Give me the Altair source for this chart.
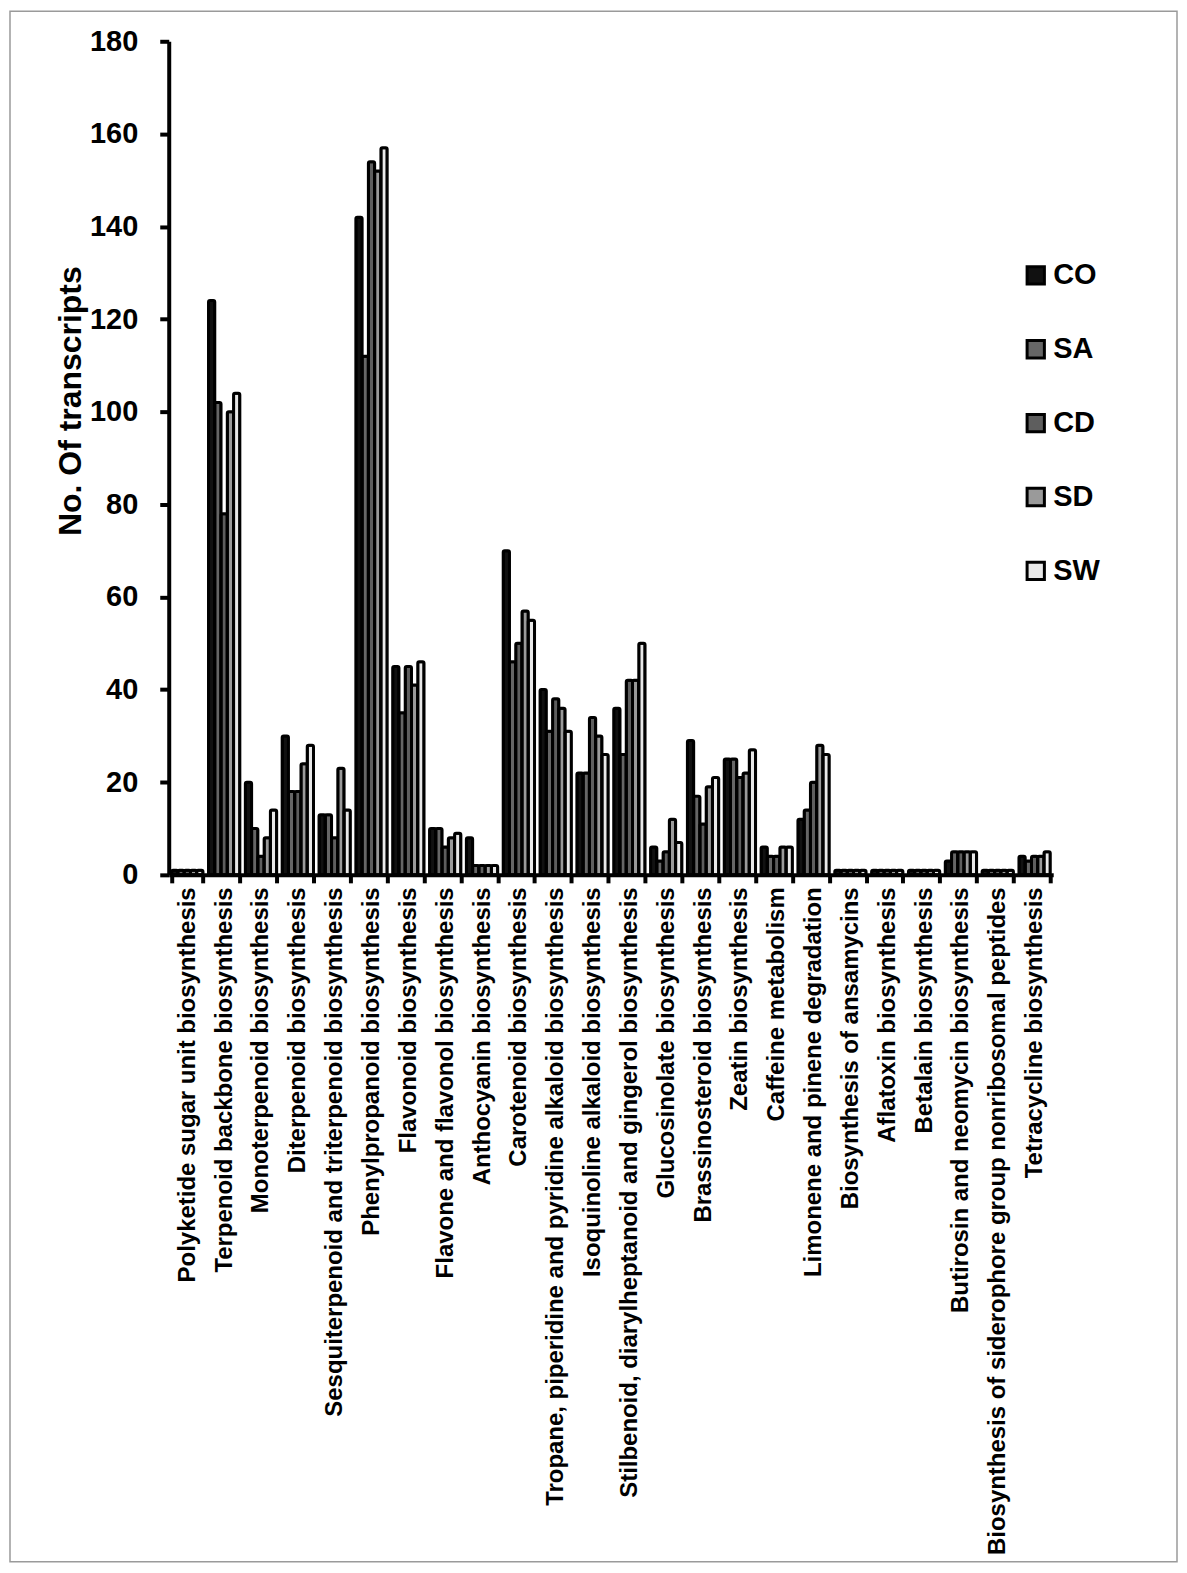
import altair as alt
import pandas as pd

categories = [
    "Polyketide sugar unit biosynthesis",
    "Terpenoid backbone biosynthesis",
    "Monoterpenoid biosynthesis",
    "Diterpenoid biosynthesis",
    "Sesquiterpenoid and triterpenoid biosynthesis",
    "Phenylpropanoid biosynthesis",
    "Flavonoid biosynthesis",
    "Flavone and flavonol biosynthesis",
    "Anthocyanin biosynthesis",
    "Carotenoid biosynthesis",
    "Tropane, piperidine and pyridine alkaloid biosynthesis",
    "Isoquinoline alkaloid biosynthesis",
    "Stilbenoid, diarylheptanoid and gingerol biosynthesis",
    "Glucosinolate biosynthesis",
    "Brassinosteroid biosynthesis",
    "Zeatin biosynthesis",
    "Caffeine metabolism",
    "Limonene and pinene degradation",
    "Biosynthesis of ansamycins",
    "Aflatoxin biosynthesis",
    "Betalain biosynthesis",
    "Butirosin and neomycin biosynthesis",
    "Biosynthesis of siderophore group nonribosomal peptides",
    "Tetracycline biosynthesis",
]

series = ["CO", "SA", "CD", "SD", "SW"]

CO = [1, 124, 20, 30, 13, 142, 45, 10, 8, 70, 40, 22, 36, 6, 29, 25, 6, 12, 1, 1, 1, 3, 1, 4]
SA = [1, 102, 10, 18, 13, 112, 35, 10, 2, 46, 31, 22, 26, 3, 17, 25, 4, 14, 1, 1, 1, 5, 1, 3]
CD = [1, 78, 4, 18, 8, 154, 45, 6, 2, 50, 38, 34, 42, 5, 11, 21, 4, 20, 1, 1, 1, 5, 1, 4]
SD = [1, 100, 8, 24, 23, 152, 41, 8, 2, 57, 36, 30, 42, 12, 19, 22, 6, 28, 1, 1, 1, 5, 1, 4]
SW = [1, 104, 14, 28, 14, 157, 46, 9, 2, 55, 31, 26, 50, 7, 21, 27, 6, 26, 1, 1, 1, 5, 1, 5]

colors = ["#111111", "#666666", "#5e5e5e", "#9a9a9a", "#e8e8e8"]

rows = []
for name, vals in zip(series, [CO, SA, CD, SD, SW]):
    for c, v in zip(categories, vals):
        rows.append({"pathway": c, "group": name, "value": v})
df = pd.DataFrame(rows)

FONT = "Liberation Sans"

bars = alt.Chart(df).mark_bar(
    stroke="black", strokeWidth=3, cornerRadius=1.5
).encode(
    x=alt.X(
        "pathway:N",
        sort=categories,
        title=None,
        scale=alt.Scale(paddingInner=0.15, paddingOuter=0.08),
        axis=alt.Axis(
            labelAngle=-90,
            labelFontSize=24,
            labelFontWeight="bold",
            labelFont=FONT,
            labelColor="black",
            labelPadding=4,
            labelLimit=1000,
            tickBand="extent",
            tickSize=8,
            tickWidth=4,
            tickColor="black",
            domainWidth=4,
            domainColor="black",
        ),
    ),
    xOffset=alt.XOffset("group:N", sort=series, scale=alt.Scale(paddingInner=0, paddingOuter=0)),
    y=alt.Y(
        "value:Q",
        title="No. Of transcripts",
        scale=alt.Scale(domain=[0, 180], nice=False),
        axis=alt.Axis(
            values=list(range(0, 181, 20)),
            grid=False,
            labelFontSize=29,
            labelFontWeight="bold",
            labelFont=FONT,
            labelColor="black",
            labelPadding=22,
            tickSize=9,
            tickWidth=4,
            tickColor="black",
            domainWidth=4,
            domainColor="black",
            titleFontSize=32,
            titleFontWeight="bold",
            titleFont=FONT,
            titleColor="black",
            titlePadding=2,
            titleY=360,
        ),
    ),
    color=alt.Color(
        "group:N",
        sort=series,
        scale=alt.Scale(domain=series, range=colors),
        legend=alt.Legend(
            title=None,
            orient="none",
            legendX=854,
            legendY=220,
            symbolType="square",
            symbolSize=300,
            symbolStrokeColor="black",
            symbolStrokeWidth=3,
            symbolOpacity=1,
            labelFontSize=29,
            labelFontWeight="bold",
            labelFont=FONT,
            labelColor="black",
            labelOffset=3,
            rowPadding=43,
            padding=0,
        ),
    ),
)

frame = alt.Chart(pd.DataFrame({"f": [0]})).mark_rect(
    fill=None, stroke="#9a9a9a", strokeWidth=1.5
).encode(
    x=alt.value(-159), x2=alt.value(1010),
    y=alt.value(-30), y2=alt.value(1523),
)

chart = alt.layer(frame, bars).properties(
    width=886,
    height=835,
    padding={"left": 1, "top": 1, "right": 1, "bottom": 1},
).configure_view(
    stroke=None
)

chart.save("out.html", embed_options={"renderer": "svg", "actions": False})
